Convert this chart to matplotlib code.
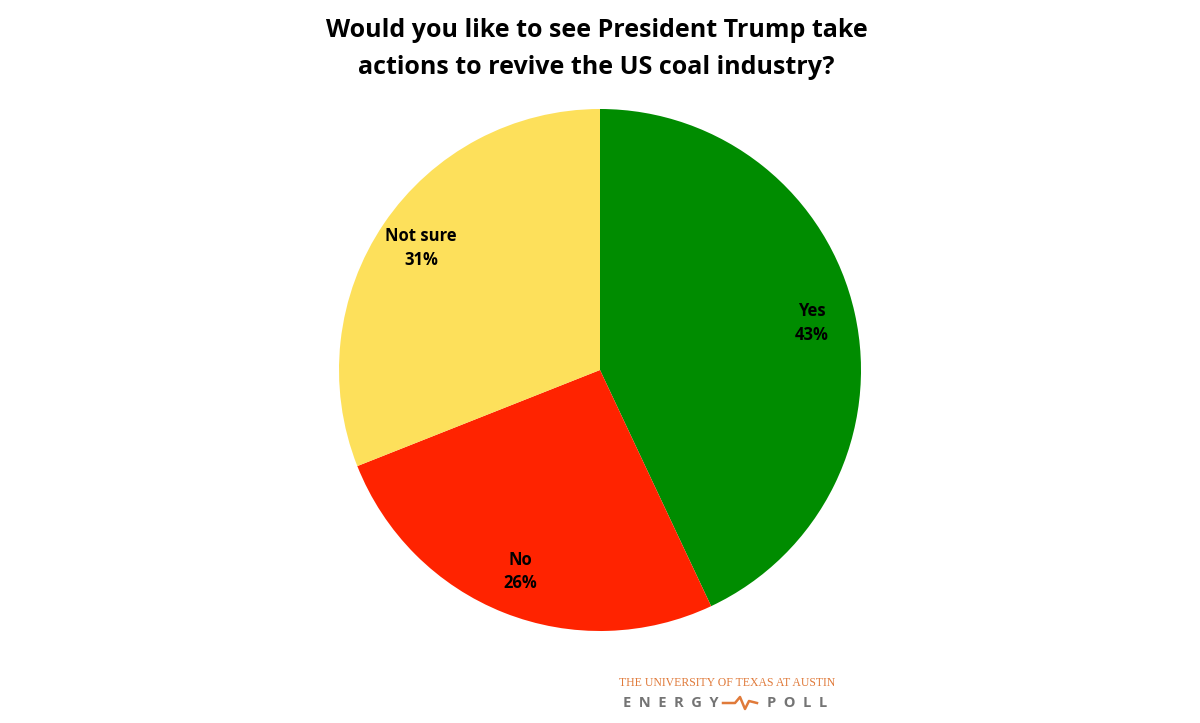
import matplotlib
matplotlib.use("Agg")
import matplotlib.pyplot as plt
from matplotlib.lines import Line2D

# data
answers = ["Yes", "No", "Not sure"]
shares = [43, 26, 31]
slice_colors = ["#008c00", "#ff2300", "#fde05b"]
title = "Would you like to see President Trump take\nactions to revive the US coal industry?"

W, H = 1200, 723
fig = plt.figure(figsize=(W / 100, H / 100), dpi=100)
fig.patch.set_facecolor("white")

# pie centred at (600, 370) px, radius about 261 px
r_px = 261
cx, cy = 600, 370
ax = fig.add_axes([(cx - r_px) / W, 1 - (cy + r_px) / H, 2 * r_px / W, 2 * r_px / H])
labels = [f"{a}\n{s}%" for a, s in zip(answers, shares)]
wedges, texts = ax.pie(shares, labels=labels, colors=slice_colors, startangle=90,
                       counterclock=False, labeldistance=0.83, radius=1.0,
                       wedgeprops=dict(linewidth=0),
                       textprops=dict(fontsize=12, fontweight="bold", family="Open Sans"))
for t in texts:
    t.set_horizontalalignment("center")
    t.set_multialignment("center")
    t.set_linespacing(1.4)
ax.set_xlim(-1, 1)
ax.set_ylim(-1, 1)
ax.set_aspect("equal")
ax.axis("off")

fig.text(0.497, 1 - 49 / H, title, ha="center", va="center", fontsize=18,
         fontweight="bold", family="Open Sans", linespacing=1.6)

# logo at bottom right
orange = "#e07a3a"
grey = "#747474"
fig.text(727 / W, 1 - 683 / H, "THE UNIVERSITY OF TEXAS AT AUSTIN", ha="center", va="center",
         fontsize=8.5, color=orange, family="Liberation Serif")
fig.text(671 / W, 1 - 703 / H, "E  N  E  R  G  Y", ha="center", va="center",
         fontsize=10.5, color=grey, family="Open Sans", fontweight="bold")
fig.text(797 / W, 1 - 703 / H, "P  O  L  L", ha="center", va="center",
         fontsize=10.5, color=grey, family="Open Sans", fontweight="bold")
zx = [723, 735, 740, 745, 749, 757]
zy = [703, 703, 697, 709, 701, 703]
fig.add_artist(Line2D([x / W for x in zx], [1 - y / H for y in zy], color=orange,
                      linewidth=1.8, transform=fig.transFigure))

fig.savefig("out.png", dpi=100, facecolor="white")
